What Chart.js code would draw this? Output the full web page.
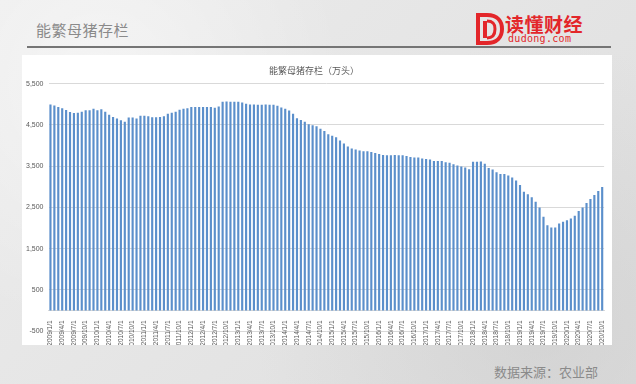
<!DOCTYPE html>
<html>
<head>
<meta charset="utf-8">
<script src="https://cdn.jsdelivr.net/npm/chart.js@4"></script>
<style>
  html, body { margin: 0; padding: 0; }
  body {
    width: 636px; height: 384px; position: relative; overflow: hidden;
    background: #e7e7e7;
    background-image:
      radial-gradient(circle at 15% 20%, rgba(255,255,255,0.5), rgba(255,255,255,0) 40%),
      radial-gradient(circle at 85% 85%, rgba(200,200,200,0.5), rgba(200,200,200,0) 45%),
      linear-gradient(135deg, #ececec, #dedede);
    font-family: "Noto Sans CJK SC", "Noto Sans", sans-serif;
  }
  #title { position: absolute; left: 36px; top: 19px; font-size: 15px; color: #8a8a8a; letter-spacing: 0.5px; }
  #rule { position: absolute; left: 27px; top: 46px; width: 584px; height: 2px; background: #757575; }
  #logo { position: absolute; left: 474px; top: 12px; width: 30px; height: 34px; }
  #brand { position: absolute; left: 505px; top: 10px; font-size: 19px; font-weight: bold; color: #e3262a; letter-spacing: 0.5px; }
  #site { position: absolute; left: 508px; top: 33px; font-size: 10px; color: #e3262a; font-family: "DejaVu Sans Mono", monospace; letter-spacing: 0.3px; }
  #panel { position: absolute; left: 22px; top: 55px; width: 590px; height: 290px; background: #fff; }
  #source { position: absolute; left: 494px; top: 362px; font-size: 13px; color: #8a8a8a; }
</style>
</head>
<body>
<div id="title">能繁母猪存栏</div>
<div id="rule"></div>
<svg id="logo" viewBox="0 0 30 34">
  <path d="M4 3 H13 C24 3 28 10 28 17 C28 25 23 31 13 31 H4 Z" fill="none" stroke="#e3262a" stroke-width="4"/>
  <rect x="9" y="9" width="4" height="17" fill="#e3262a"/>
  <path d="M13 9 C20 9 21 13 21 17 C21 22 19 26 13 26" fill="none" stroke="#e3262a" stroke-width="3"/>
</svg>
<div id="brand">读懂财经</div>
<div id="site">dudong.com</div>
<div id="panel"><canvas id="chart" width="590" height="290"></canvas></div>
<div id="source">数据来源：农业部</div>

<script>
// monthly categories, 2009/1/1 .. 2020/10/1
const startYear = 2009;
const monthCount = 142;
const months = [];
for (let i = 0; i < monthCount; i++) {
  const y = startYear + Math.floor(i / 12);
  const m = (i % 12) + 1;
  months.push(`${y}/${m}/1`);
}

// 能繁母猪存栏（万头）
const sows = [
  5000, 4975, 4935, 4905, 4865, 4815, 4790, 4800, 4820, 4860, 4855, 4895,
  4855, 4880, 4820, 4750, 4695, 4660, 4615, 4580, 4680, 4680, 4655, 4725,
  4725, 4710, 4690, 4690, 4695, 4710, 4775, 4800, 4820, 4870, 4895, 4905,
  4935, 4935, 4935, 4935, 4935, 4935, 4920, 4950, 5063, 5071, 5063, 5063,
  5063, 5047, 5015, 5000, 5000, 4990, 4990, 5000, 4990, 4990, 4967, 4927,
  4894, 4854, 4774, 4661, 4621, 4580, 4516, 4492, 4468, 4411, 4355, 4275,
  4240, 4201, 4121, 4048, 3976, 3927, 3903, 3879, 3863, 3863, 3847, 3822,
  3798, 3774, 3766, 3766, 3774, 3766, 3766, 3750, 3726, 3710, 3710, 3685,
  3677, 3661, 3629, 3629, 3629, 3597, 3581, 3548, 3516, 3492, 3468, 3427,
  3605, 3605, 3614, 3557, 3459, 3419, 3354, 3313, 3313, 3272, 3224, 3150,
  3045, 2882, 2817, 2744, 2638, 2500, 2272, 2069, 2012, 2012, 2110, 2150,
  2191, 2232, 2297, 2410, 2500, 2606, 2703, 2801, 2898, 2996
];

const yMin = -500;
const yMax = 5500;
const yStep = 1000;

const textColor = "#595959";
const gridColor = "#d9d9d9";

new Chart(document.getElementById("chart").getContext("2d"), {
  type: "bar",
  data: {
    labels: months,
    datasets: [
      {
        label: "能繁母猪存栏",
        data: sows,
        backgroundColor: "#5b8fcb",
        barPercentage: 0.55,
        categoryPercentage: 1.0,
      },
    ],
  },
  options: {
    responsive: false,
    animation: false,
    layout: { padding: { top: 0, right: 6, bottom: 14, left: 0 } },
    plugins: {
      legend: { display: false },
      tooltip: { enabled: false },
      title: {
        display: true,
        text: "能繁母猪存栏（万头）",
        color: textColor,
        font: { family: "Noto Sans CJK SC", size: 9, weight: "normal" },
        padding: { top: 10, bottom: 8 },
      },
    },
    scales: {
      x: {
        position: { y: 0 },
        grid: { display: false },
        border: { display: true, color: gridColor },
        ticks: {
          autoSkip: false,
          maxRotation: 90,
          minRotation: 90,
          padding: 2,
          color: textColor,
          font: { family: "Liberation Sans", size: 6.5 },
          callback: (v, i) => (i % 3 === 0 ? months[i] : ""),
        },
      },
      y: {
        min: yMin,
        max: yMax,
        grid: { color: gridColor, drawTicks: false },
        border: { display: false },
        ticks: {
          stepSize: yStep,
          padding: 5,
          color: textColor,
          font: { family: "Liberation Sans", size: 7 },
          callback: (v) => v.toLocaleString("en-US"),
        },
        afterFit: (s) => { s.width = 26.5; },
      },
    },
  },
});
</script>
</body>
</html>
